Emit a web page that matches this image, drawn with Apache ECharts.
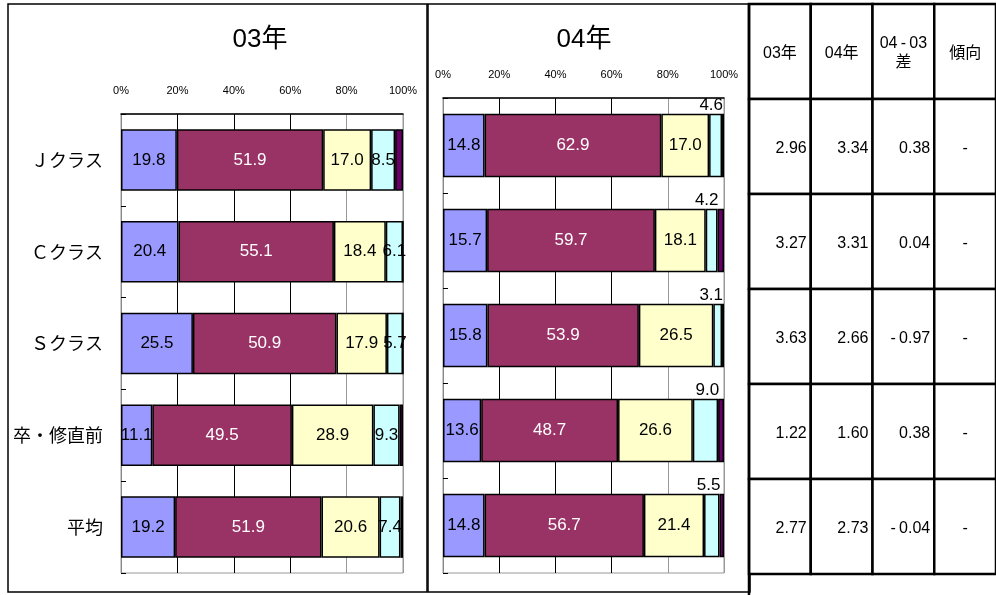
<!DOCTYPE html>
<html>
<head>
<meta charset="utf-8">
<script src="https://cdn.jsdelivr.net/npm/echarts@6/dist/echarts.min.js"></script>
<style>
  html, body { margin: 0; padding: 0; background: #fff; }
  #chart { width: 996px; height: 595px; }
</style>
</head>
<body>
<div id="chart"></div>
<script>
// Rows of both stacked-bar panels (top to bottom)
const categories = ['Ｊクラス', 'Ｃクラス', 'Ｓクラス', '卒・修直前', '平均'];

// 03年: share of each rating band (%)
const y03Band1 = [19.8, 20.4, 25.5, 11.1, 19.2];
const y03Band2 = [51.9, 55.1, 50.9, 49.5, 51.9];
const y03Band3 = [17.0, 18.4, 17.9, 28.9, 20.6];
const y03Band4 = [8.5, 6.1, 5.7, 9.3, 7.4];
const y03Band5 = [2.8, 0.0, 0.0, 1.2, 0.9];

// 04年: share of each rating band (%)
const y04Band1 = [14.8, 15.7, 15.8, 13.6, 14.8];
const y04Band2 = [62.9, 59.7, 53.9, 48.7, 56.7];
const y04Band3 = [17.0, 18.1, 26.5, 26.6, 21.4];
const y04Band4 = [4.6, 4.2, 3.1, 9.0, 5.5];
const y04Band5 = [0.7, 2.3, 0.7, 2.1, 1.6];

// Summary table
const tableHeader = ['03年', '04年', '04\u2009-\u200903\n差', '傾向'];
const score03 = [2.96, 3.27, 3.63, 1.22, 2.77];
const score04 = [3.34, 3.31, 2.66, 1.60, 2.73];
const scoreDiff = [0.38, 0.04, -0.97, 0.38, -0.04];
const trend = ['-', '-', '-', '-', '-'];

const panelTitles = ['03年', '04年'];

const bandColors = ['#9999FF', '#993366', '#FFFFCC', '#CCFFFF', '#660066'];
const bandLabelColors = ['#000', '#fff', '#000', '#000', '#000'];
const NUM_FONT = '"Liberation Sans", Arial, sans-serif';
const JP_FONT = '"Liberation Sans", "Noto Sans CJK JP", sans-serif';

// Two-decimal number with a thin gap after the minus sign
function fmt2(v) {
  const s = Math.abs(v).toFixed(2);
  return v < 0 ? '-\u2009' + s : s;
}

function bandSeries(name, values, band, gridIndex, aboveLabel) {
  const label = { show: band < 4, color: bandLabelColors[band], fontSize: 17,
                  fontFamily: NUM_FONT,
                  formatter: p => p.value.toFixed(1) };
  if (aboveLabel) {
    Object.assign(label, { position: ['100%', 0], align: 'right',
                           verticalAlign: 'bottom', offset: [1, 0] });
  }
  return {
    name: name, type: 'bar', stack: 'g' + gridIndex,
    xAxisIndex: gridIndex, yAxisIndex: gridIndex,
    barCategoryGap: '33%',
    itemStyle: { color: bandColors[band], borderColor: '#000', borderWidth: 1.5 },
    label: label,
    silent: true,
    data: values
  };
}

function valueAxis(gridIndex) {
  return {
    type: 'value', gridIndex: gridIndex, position: 'top',
    min: 0, max: 100, interval: 20,
    axisLine: { show: true, lineStyle: { color: '#000', width: 1.5 } },
    axisTick: { show: false },
    axisLabel: { margin: 18, fontSize: 11, color: '#000', fontFamily: NUM_FONT,
                 formatter: '{value}%' },
    splitLine: { show: true, lineStyle: { color: ['#000', '#000', '#000', '#000', '#999', '#999'], width: 1 } }
  };
}

function categoryAxis(gridIndex, showLabels) {
  return {
    type: 'category', gridIndex: gridIndex, inverse: true, data: categories,
    axisLine: { show: true, lineStyle: { color: '#888', width: 1 } },
    axisTick: { show: true, inside: true, length: 5, lineStyle: { color: '#000' } },
    axisLabel: { show: showLabels, margin: 18, fontSize: 18, color: '#000',
                 fontFamily: '"Noto Sans CJK JP", sans-serif' }
  };
}

// Table cells: [column, row]; row 0 is the header
const tableCols = ['c03', 'c04', 'diff', 'trend'];
const tableRows = ['head'].concat(categories);
const tableColumns = [
  score03.map(fmt2),
  score04.map(fmt2),
  scoreDiff.map(fmt2),
  trend
];
const tableCells = [];
for (let r = 0; r < tableRows.length; r++) {
  for (let c = 0; c < tableCols.length; c++) tableCells.push([c, r]);
}

function renderCell(params, api) {
  const c = api.value(0), r = api.value(1);
  const p = api.coord([c, r]);
  const s = api.size([1, 1]);
  const x0 = p[0] - s[0] / 2, y0 = p[1] - s[1] / 2;
  let text, tx, align;
  if (r === 0) {
    text = tableHeader[c]; tx = p[0]; align = 'center';
  } else if (c === 3) {
    text = tableColumns[c][r - 1]; tx = p[0]; align = 'center';
  } else {
    text = tableColumns[c][r - 1]; tx = x0 + s[0] - 4; align = 'right';
  }
  return {
    type: 'group',
    children: [
      { type: 'rect', shape: { x: x0, y: y0, width: s[0], height: s[1] },
        style: { fill: '#fff', stroke: '#000', lineWidth: 2.5 } },
      { type: 'text', x: tx, y: p[1] + 2,
        style: { text: text, align: align, verticalAlign: 'middle',
                 fontSize: 16, lineHeight: 19, fill: '#000', fontFamily: JP_FONT } }
    ]
  };
}

const chart = echarts.init(document.getElementById('chart'), null, { renderer: 'canvas' });
chart.setOption({
  animation: false,
  backgroundColor: '#fff',
  title: [
    { text: panelTitles[0], left: 255, top: 22, textAlign: 'center',
      textStyle: { fontSize: 26, fontWeight: 'normal', color: '#000', fontFamily: JP_FONT } },
    { text: panelTitles[1], left: 579, top: 22, textAlign: 'center',
      textStyle: { fontSize: 26, fontWeight: 'normal', color: '#000', fontFamily: JP_FONT } }
  ],
  grid: [
    { left: 121, top: 114, width: 282, height: 459, show: true,
      borderColor: '#999', borderWidth: 1, backgroundColor: '#fff' },
    { left: 443, top: 98, width: 281, height: 475, show: true,
      borderColor: '#999', borderWidth: 1, backgroundColor: '#fff' },
    { left: 749, top: 4, width: 249, height: 570 }
  ],
  xAxis: [
    valueAxis(0), valueAxis(1),
    { type: 'category', gridIndex: 2, data: tableCols, show: false }
  ],
  yAxis: [
    categoryAxis(0, true), categoryAxis(1, false),
    { type: 'category', gridIndex: 2, data: tableRows, inverse: true, show: false }
  ],
  graphic: [
    { type: 'rect', shape: { x: 8, y: 4, width: 419, height: 588 },
      style: { fill: 'none', stroke: '#000', lineWidth: 1.5 }, silent: true },
    { type: 'rect', shape: { x: 428, y: 4, width: 322, height: 588 },
      style: { fill: 'none', stroke: '#000', lineWidth: 1.5 }, silent: true },
    { type: 'line', shape: { x1: 749, y1: 4, x2: 749, y2: 598 },
      style: { stroke: '#000', lineWidth: 2.5 }, silent: true, z: 10 }
  ],
  series: [
    bandSeries('band1_03', y03Band1, 0, 0, false),
    bandSeries('band2_03', y03Band2, 1, 0, false),
    bandSeries('band3_03', y03Band3, 2, 0, false),
    bandSeries('band4_03', y03Band4, 3, 0, false),
    bandSeries('band5_03', y03Band5, 4, 0, false),
    bandSeries('band1_04', y04Band1, 0, 1, false),
    bandSeries('band2_04', y04Band2, 1, 1, false),
    bandSeries('band3_04', y04Band3, 2, 1, false),
    bandSeries('band4_04', y04Band4, 3, 1, true),
    bandSeries('band5_04', y04Band5, 4, 1, false),
    { type: 'custom', xAxisIndex: 2, yAxisIndex: 2, silent: true,
      renderItem: renderCell, data: tableCells }
  ]
});
</script>
</body>
</html>
